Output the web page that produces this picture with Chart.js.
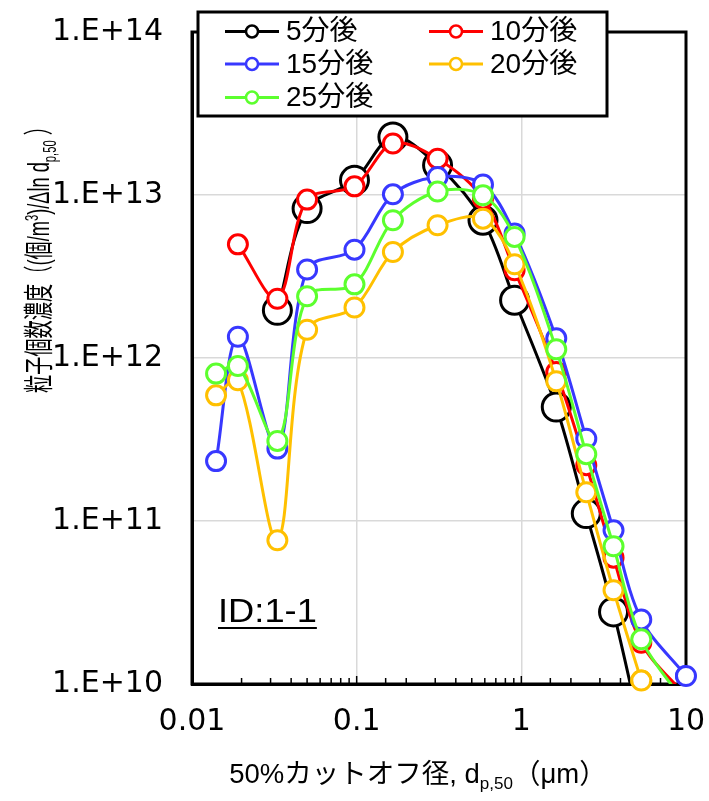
<!DOCTYPE html>
<html>
<head>
<meta charset="utf-8">
<script src="https://cdn.jsdelivr.net/npm/chart.js@4.4.1/dist/chart.umd.min.js"></script>
<style>
  html, body { margin: 0; padding: 0; background: #fff; }
  #wrap { width: 709px; height: 801px; }
</style>
</head>
<body>
<div id="wrap"><canvas id="chart" width="709" height="801"></canvas></div>
<script>
// 50% cut-off diameters (um), shared by all series
const cutoffs = [0.014, 0.019, 0.033, 0.05, 0.097, 0.166, 0.31, 0.585, 0.91, 1.63, 2.48, 3.63, 5.35, 10];

// particle number concentration
const after5  = [null, null, 1.96e12, 8.25e12, 1.23e13, 2.27e13, 1.52e13, 7.0e12, 2.26e12, 5.0e11, 1.11e11, 2.77e10, 5.0e9, null];
const after10 = [null, 4.98e12, 2.31e12, 9.37e12, 1.13e13, 2.07e13, 1.67e13, 9.5e12, 3.45e12, 8.2e11, 2.2e11, 5.96e10, 1.79e10, 8.4e9];
const after15 = [2.33e11, 1.35e12, 2.78e11, 3.49e12, 4.62e12, 1.01e13, 1.29e13, 1.16e13, 5.8e12, 1.32e12, 3.2e11, 8.77e10, 2.49e10, 1.12e10];
const after20 = [5.9e11, 7.3e11, 7.61e10, 1.49e12, 2.04e12, 4.47e12, 6.52e12, 7.16e12, 3.76e12, 7.2e11, 1.5e11, 3.76e10, 1.05e10, null];
const after25 = [8.02e11, 8.93e11, 3.1e11, 2.39e12, 2.83e12, 7.0e12, 1.05e13, 9.96e12, 5.53e12, 1.13e12, 2.57e11, 7.0e10, 1.88e10, 7.5e9];

const seriesNames = ['5分後', '10分後', '15分後', '20分後', '25分後'];
const seriesColors = ['#000000', '#ff0000', '#3838ff', '#ffc000', '#5cff2e'];

const xTickLabels = ['0.01', '0.1', '1', '10'];
const yTickLabels = ['1.E+10', '1.E+11', '1.E+12', '1.E+13', '1.E+14'];

const LATIN = "'Liberation Sans', 'Noto Sans CJK JP', sans-serif";
const TICKFONT = "'DejaVu Sans', 'Liberation Sans', sans-serif";

function toPoints(vals) {
  const pts = [];
  vals.forEach((v, i) => { if (v !== null) pts.push({ x: cutoffs[i], y: v }); });
  return pts;
}

function decade(v) {
  const e = Math.log10(v);
  return Math.abs(e - Math.round(e)) < 1e-6 ? Math.round(e) : null;
}

const allSeries = [after5, after10, after15, after20, after25];
const datasets = allSeries.map((vals, i) => ({
  label: seriesNames[i],
  data: toPoints(vals),
  borderColor: seriesColors[i],
  backgroundColor: seriesColors[i],
  pointBackgroundColor: '#ffffff',
  pointBorderColor: seriesColors[i],
  pointBorderWidth: 3,
  pointRadius: i === 0 ? 14 : 9.5,
  borderWidth: 3,
  tension: 0.33,
  order: 4 - i
}));

// draw rich text (normal / sub / sup runs) starting at x, baseline y
function richText(ctx, runs, size, x, y, measureOnly) {
  let w = 0;
  runs.forEach(r => {
    const s = r[1] === 'n' ? size : size * 0.62;
    ctx.font = s + 'px ' + LATIN;
    const dy = r[1] === 'sub' ? size * 0.22 : (r[1] === 'sup' ? -size * 0.38 : 0);
    if (!measureOnly) ctx.fillText(r[0], x + w, y + dy);
    w += ctx.measureText(r[0]).width;
  });
  return w;
}

const xTitle = [['50%カットオフ径, d', 'n'], ['p,50', 'sub'], ['（μm）', 'n']];
const yTitle = [['粒子個数濃度（(個/m', 'n'], ['3', 'sup'], [')/Δln d', 'n'], ['p,50', 'sub'], [' ）', 'n']];

const decorations = {
  id: 'decorations',
  beforeDatasetsDraw(chart) {
    const ctx = chart.ctx, a = chart.chartArea, xs = chart.scales.x;
    ctx.save();
    // plot frame
    ctx.strokeStyle = '#000';
    ctx.lineWidth = 3;
    ctx.strokeRect(a.left, a.top, a.right - a.left, a.bottom - a.top);
    // inside ticks on the x axis
    ctx.lineWidth = 1.5;
    xs.ticks.forEach(t => {
      const px = xs.getPixelForValue(t.value);
      const len = decade(t.value) !== null ? 8 : 6;
      ctx.beginPath();
      ctx.moveTo(px, a.bottom);
      ctx.lineTo(px, a.bottom - len);
      ctx.stroke();
    });
    ctx.restore();
  },
  afterDatasetsDraw(chart) {
    // markers sitting on the frame are drawn whole, as in the original
    const ctx = chart.ctx, a = chart.chartArea;
    const big = { left: -1e4, right: 1e4, top: -1e4, bottom: 1e4 };
    chart.getSortedVisibleDatasetMetas().slice().reverse().forEach(meta => {
      meta.data.forEach(pt => {
        if (pt.x < a.left - 1 || pt.x > a.right + 1 || pt.y < a.top - 1 || pt.y > a.bottom + 1) return;
        const r = pt.options.radius + 2;
        if (pt.x + r > a.right || pt.y + r > a.bottom || pt.x - r < a.left) pt.draw(ctx, big);
      });
    });
  },
  afterDraw(chart) {
    const ctx = chart.ctx;
    ctx.save();
    ctx.fillStyle = '#000';
    ctx.textBaseline = 'alphabetic';

    // x axis title
    const tw = richText(ctx, xTitle, 27.5, 0, 0, true);
    richText(ctx, xTitle, 27.5, 418 - tw / 2, 783, false);

    // y axis title, squeezed along its length like the original
    ctx.save();
    ctx.translate(49, 255);
    ctx.rotate(-Math.PI / 2);
    const yw = richText(ctx, yTitle, 30, 0, 0, true);
    ctx.scale(276 / yw, 1);
    richText(ctx, yTitle, 30, -yw / 2, 0, false);
    ctx.restore();

    // ID label
    ctx.save();
    ctx.font = '33px ' + LATIN;
    ctx.translate(218, 622);
    ctx.scale(1.1, 1);
    ctx.fillText('ID:1-1', 0, 0);
    const iw = ctx.measureText('ID:1-1').width;
    ctx.fillRect(0, 5, iw, 2);
    ctx.restore();

    // legend box
    const box = { l: 198, t: 12, r: 607, b: 116 };
    ctx.fillStyle = '#fff';
    ctx.fillRect(box.l, box.t, box.r - box.l, box.b - box.t);
    ctx.strokeStyle = '#000';
    ctx.lineWidth = 3;
    ctx.strokeRect(box.l, box.t, box.r - box.l, box.b - box.t);
    const rows = [31.5, 64, 97.5];
    const cols = [225, 429];
    chart.data.datasets.forEach((ds, i) => {
      const cx = cols[i % 2], cy = rows[Math.floor(i / 2)];
      ctx.strokeStyle = ds.borderColor;
      ctx.lineWidth = 3;
      ctx.beginPath();
      ctx.moveTo(cx, cy);
      ctx.lineTo(cx + 54, cy);
      ctx.stroke();
      ctx.beginPath();
      ctx.arc(cx + 27, cy, 6, 0, Math.PI * 2);
      ctx.fillStyle = '#fff';
      ctx.fill();
      ctx.lineWidth = 2.5;
      ctx.stroke();
      ctx.fillStyle = '#000';
      ctx.font = '28px ' + LATIN;
      ctx.textBaseline = 'middle';
      ctx.fillText(ds.label, cx + 61, cy + 1);
    });
    ctx.restore();
  }
};

new Chart(document.getElementById('chart'), {
  type: 'line',
  data: { datasets },
  plugins: [decorations],
  options: {
    responsive: false,
    animation: false,
    events: [],
    layout: { autoPadding: false, padding: { left: 0, top: 32, right: 23, bottom: 0 } },
    plugins: { legend: { display: false }, tooltip: { enabled: false } },
    scales: {
      x: {
        type: 'logarithmic',
        min: 0.01,
        max: 10,
        afterFit: s => { s.height = 117; s.paddingLeft = 0; s.paddingRight = 0; },
        border: { display: true, color: '#000', width: 3 },
        grid: {
          drawTicks: false,
          lineWidth: 1.5,
          color: c => (c.tick && decade(c.tick.value) !== null) ? '#d9d9d9' : 'rgba(0,0,0,0)'
        },
        ticks: {
          autoSkip: false,
          maxRotation: 0,
          padding: 20,
          color: '#000',
          font: { family: TICKFONT, size: 30 },
          callback: v => { const d = decade(v); return d === null ? '' : xTickLabels[d + 2]; }
        }
      },
      y: {
        type: 'logarithmic',
        min: 1e10,
        max: 1e14,
        afterFit: s => { s.width = 192; s.paddingTop = 0; s.paddingBottom = 0; },
        border: { display: true, color: '#000', width: 3 },
        grid: {
          drawTicks: false,
          lineWidth: 1.5,
          color: c => (c.tick && decade(c.tick.value) !== null) ? '#d9d9d9' : 'rgba(0,0,0,0)'
        },
        ticks: {
          autoSkip: false,
          padding: 29,
          color: '#000',
          font: { family: TICKFONT, size: 30 },
          callback: v => { const d = decade(v); return d === null ? '' : yTickLabels[d - 10]; }
        }
      }
    }
  }
});
</script>
</body>
</html>
